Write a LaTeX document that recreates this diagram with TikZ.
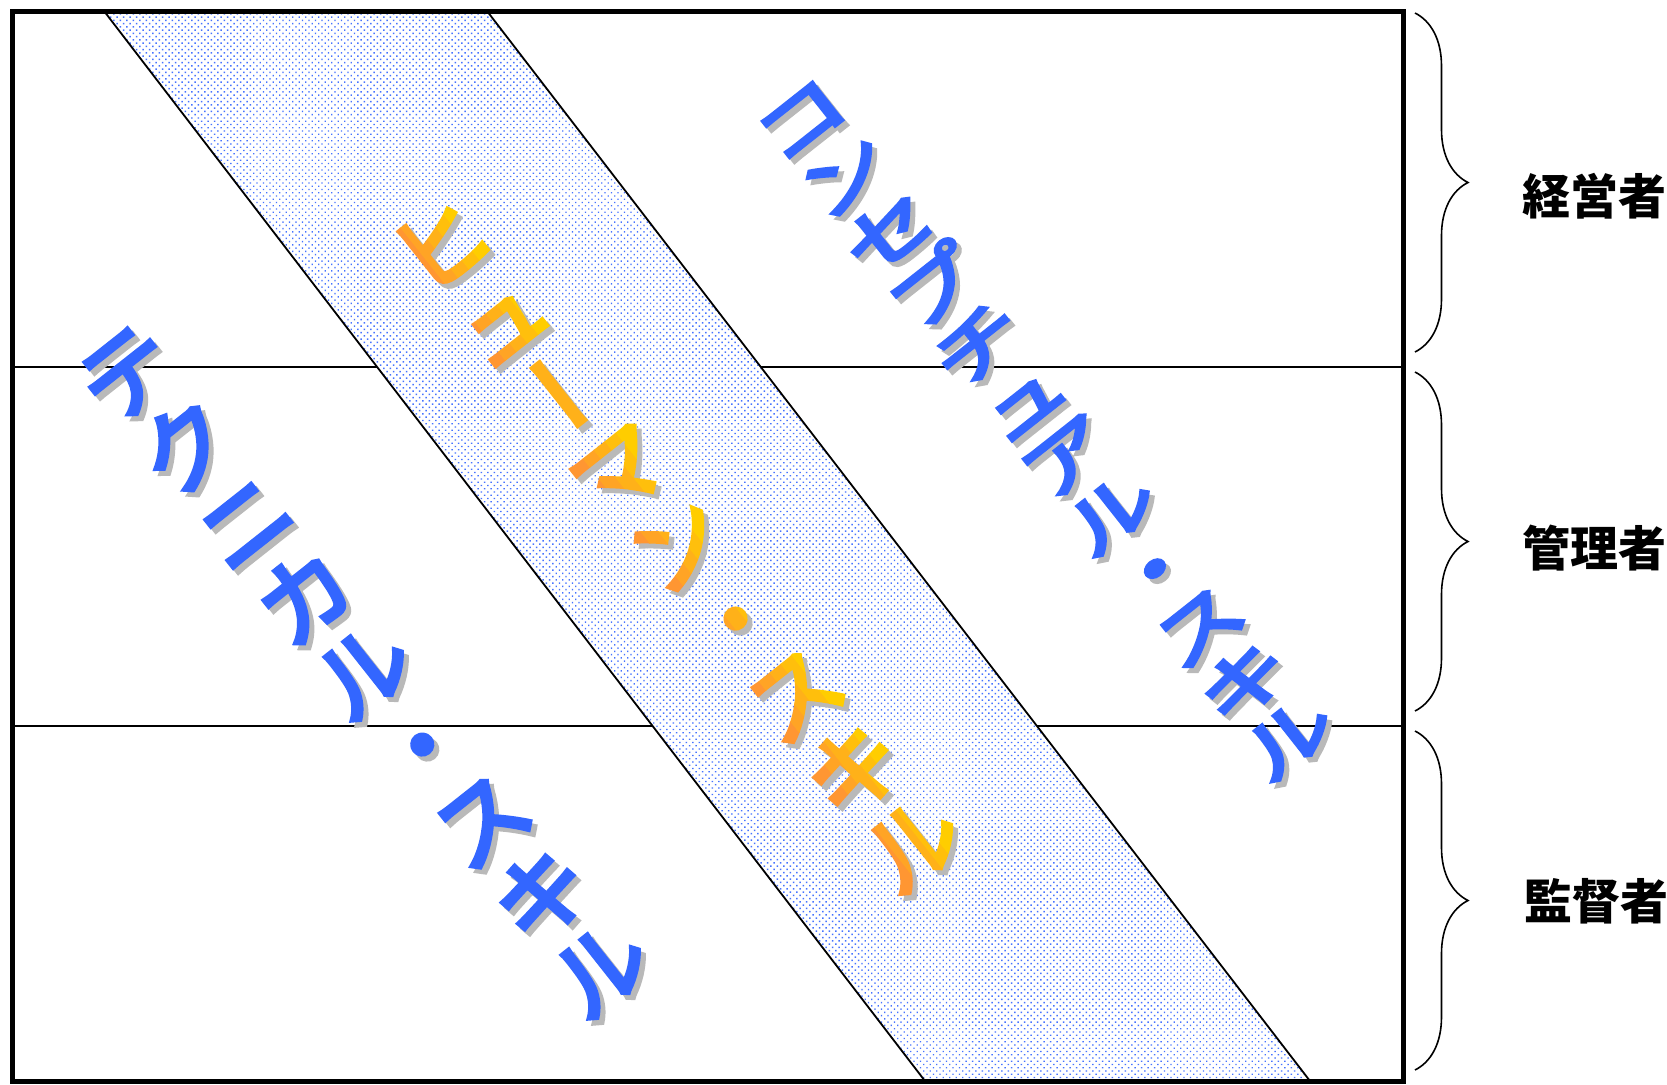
\documentclass[tikz,border=0pt]{standalone}
\usepackage{fontspec}
\newfontfamily\jpfont{Noto Sans CJK JP}
\newfontfamily\jpfat[FakeBold=5]{Noto Sans CJK JP}
\usetikzlibrary{calc,patterns.meta,decorations.pathreplacing}
\definecolor{skillblue}{RGB}{51,102,255}
\definecolor{shgray}{RGB}{185,185,185}
\definecolor{hor}{RGB}{255,150,50}
\definecolor{hye}{RGB}{255,205,0}
\definecolor{dotblue}{RGB}{70,115,255}
\tikzset{
  jchar/.style={font=\jpfat\fontsize{46}{46}\selectfont, inner sep=0pt, text height=40.5pt, text depth=5.5pt},
  frameline/.style={line width=2.5pt},
  rowline/.style={line width=1pt},
  bandedge/.style={line width=0.9pt},
  bandfill/.style={pattern={Dots[distance=2.3pt,angle=45,radius=0.5pt]}, pattern color=dotblue},
  bracestyle/.style={decorate, decoration={brace, amplitude=26.5pt}, line width=0.8pt},
  lvl/.style={font=\jpfont\bfseries\fontsize{24}{24}\selectfont, inner sep=0pt}
}
\def\ang{38.3}
\begin{document}
\begin{tikzpicture}[x=0.5pt,y=-0.5pt]
\useasboundingbox (0,0) rectangle (1667,1084);
% frame corners
\coordinate (tl) at (12,11);
\coordinate (br) at (1403,1081);
% row separators
\coordinate (r1l) at (12,367);  \coordinate (r1r) at (1403,367);
\coordinate (r2l) at (12,726);  \coordinate (r2r) at (1403,726);
\draw[rowline] (r1l) -- (r1r);
\draw[rowline] (r2l) -- (r2r);
% human-skill band
\coordinate (bA) at (104,11);
\coordinate (bB) at (487,11);
\coordinate (bC) at (1310,1081);
\coordinate (bD) at (925,1081);
\fill[white] (bA) -- (bB) -- (bC) -- (bD) -- cycle;
\path[bandfill] (bA) -- (bB) -- (bC) -- (bD) -- cycle;
\draw[bandedge] (bA) -- (bD);
\draw[bandedge] (bB) -- (bC);
% outer frame
\draw[frameline] (tl) rectangle (br);
% braces
\coordinate (b1t) at (1415,13);  \coordinate (b1b) at (1415,352);
\coordinate (b2t) at (1415,372); \coordinate (b2b) at (1415,711);
\coordinate (b3t) at (1415,731); \coordinate (b3b) at (1415,1070);
\draw[bracestyle] (b1t) -- (b1b);
\draw[bracestyle] (b2t) -- (b2b);
\draw[bracestyle] (b3t) -- (b3b);
\node[lvl] (lv1) at (1594,196) {経営者};
\node[lvl] (lv2) at (1594,548) {管理者};
\node[lvl] (lv3) at (1596,901) {監督者};
% technical skill
\foreach \c/\r [count=\i from 0] in {テ/0,ク/0,ニ/0,カ/0,ル/0,・/0,ス/0,キ/0,ル/0} {
  \node[jchar, text=shgray, rotate=\ang+\r] (ts\i) at (126+59.25*\i+5, 372+74.5*\i+5) {\c};
}
\foreach \c/\r [count=\i from 0] in {テ/0,ク/0,ニ/0,カ/0,ル/0,・/0,ス/0,キ/0,ル/0} {
  \node[jchar, text=skillblue, rotate=\ang+\r] (t\i) at (126+59.25*\i, 372+74.5*\i) {\c};
}
% conceptual skill
\foreach \c/\r [count=\i from 0] in {コ/0,ン/0,セ/0,プ/0,チ/0,ュ/0,ア/0,ル/0,・/0,ス/0,キ/0,ル/0} {
  \node[jchar, text=shgray, rotate=\ang+\r, yscale=0.76] (cs\i) at (800+44.36*\i+5, 119+56.2*\i+5) {\c};
}
\foreach \c/\r [count=\i from 0] in {コ/0,ン/0,セ/0,プ/0,チ/0,ュ/0,ア/0,ル/0,・/0,ス/0,キ/0,ル/0} {
  \node[jchar, text=skillblue, rotate=\ang+\r, yscale=0.76] (c\i) at (800+44.36*\i, 119+56.2*\i) {\c};
}
% human skill: shadow, then orange-to-yellow bands across the column
\foreach \c/\r [count=\i from 0] in {ヒ/0,ュ/0,ー/90,マ/0,ン/0,・/0,ス/0,キ/0,ル/0} {
  \node[jchar, text=shgray, rotate=\ang+\r] (hs\i) at (441+58.9*\i+5, 244+74.9*\i+5) {\c};
}
\foreach \k/\la/\ra/\p in {0/-150/-20.5/0, 1/-21/-6.5/25, 2/-7/7.5/50, 3/7/21.5/75, 4/21/150/100} {
  \begin{scope}
    \clip[shift={(676.5,543.5)}, rotate=\ang] (\la,-700) rectangle (\ra,700);
    \foreach \c/\r [count=\i from 0] in {ヒ/0,ュ/0,ー/90,マ/0,ン/0,・/0,ス/0,キ/0,ル/0} {
      \node[jchar, text={hye!\p!hor}, rotate=\ang+\r] (h\k-\i) at (441+58.9*\i, 244+74.9*\i) {\c};
    }
  \end{scope}
}
\end{tikzpicture}
\end{document}
